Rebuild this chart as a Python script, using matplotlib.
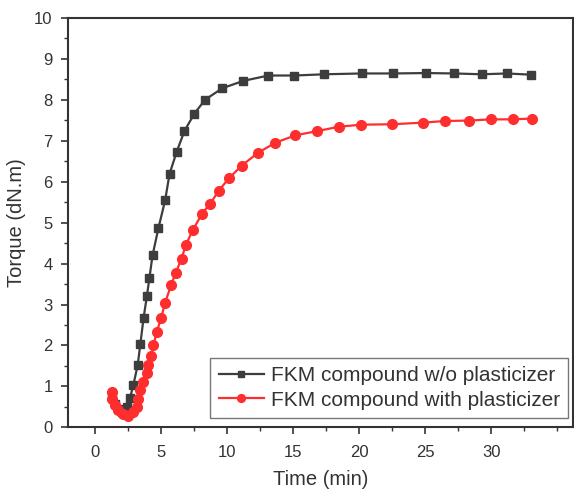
import numpy as np
import matplotlib
matplotlib.use("Agg")
import matplotlib.pyplot as plt
from matplotlib.ticker import MultipleLocator

# ---------- data ----------
t_without = [1.3, 1.5, 1.75, 2.05, 2.35, 2.4, 2.65, 2.9, 3.23, 3.43, 3.67, 3.92, 4.11,
             4.35, 4.8, 5.3, 5.64, 6.17, 6.77, 7.52, 8.33, 9.64, 11.23, 13.13,
             15.1, 17.37, 20.2, 22.55, 25.08, 27.2, 29.3, 31.2, 33.0]
torque_without = [0.80, 0.58, 0.44, 0.37, 0.42, 0.51, 0.72, 1.04, 1.53, 2.04, 2.67, 3.20, 3.64,
                  4.20, 4.87, 5.54, 6.19, 6.72, 7.24, 7.66, 8.00, 8.28, 8.46, 8.59,
                  8.59, 8.62, 8.64, 8.64, 8.65, 8.64, 8.62, 8.64, 8.61]

t_with = [1.25, 1.30, 1.48, 1.77, 2.14, 2.52, 2.90, 3.16, 3.22, 3.41, 3.66, 3.90, 4.04,
          4.24, 4.42, 4.67, 5.00, 5.30, 5.76, 6.11, 6.55, 6.86, 7.42, 8.11, 8.71,
          9.37, 10.13, 11.10, 12.32, 13.65, 15.17, 16.77, 18.47, 20.14, 22.52,
          24.80, 26.52, 28.28, 30.0, 31.61, 33.08]
torque_with = [0.87, 0.70, 0.54, 0.42, 0.32, 0.29, 0.37, 0.50, 0.70, 0.92, 1.11, 1.33, 1.53,
               1.75, 2.00, 2.33, 2.67, 3.04, 3.48, 3.78, 4.12, 4.45, 4.83, 5.22, 5.46,
               5.78, 6.08, 6.39, 6.70, 6.95, 7.13, 7.23, 7.34, 7.39, 7.40,
               7.44, 7.48, 7.49, 7.52, 7.52, 7.54]

labels = ["FKM compound w/o plasticizer", "FKM compound with plasticizer"]

plt.rcParams['font.family'] = ['Liberation Sans', 'DejaVu Sans']

fig = plt.figure(figsize=(5.74, 4.93), dpi=100)
ax = fig.add_axes([0.1185, 0.133, 0.88, 0.831])

ax.plot(t_without, torque_without, color="#3d3d3d", marker="s", markersize=6,
        linewidth=1.6, label=labels[0])
ax.plot(t_with, torque_with, color="#ff2e2e", marker="o", markersize=7,
        linewidth=1.6, label=labels[1])

ax.set_xlim(-2.05, 36.2)
ax.set_ylim(0, 10)
ax.xaxis.set_major_locator(MultipleLocator(5))
ax.xaxis.set_minor_locator(MultipleLocator(2.5))
ax.yaxis.set_major_locator(MultipleLocator(1))
ax.yaxis.set_minor_locator(MultipleLocator(0.5))
ax.set_xticks(np.arange(0, 31, 5))
ax.tick_params(which="both", direction="out", labelsize=12, colors="#333333")
ax.tick_params(axis="x", which="major", pad=8)
ax.tick_params(axis="y", which="major", pad=6)
ax.tick_params(which="major", length=5, width=1.2)
ax.tick_params(which="minor", length=3, width=1.0)
for s in ax.spines.values():
    s.set_linewidth(1.5)
    s.set_color("#333333")

ax.set_xlabel("Time (min)", fontsize=14.5, color="#333333", labelpad=7)
ax.set_ylabel("Torque (dN.m)", fontsize=14.5, color="#333333", labelpad=6)

leg = ax.legend(loc="lower right", bbox_to_anchor=(0.99, 0.023), fontsize=15,
                frameon=True, fancybox=False, edgecolor="#555555",
                handlelength=2.2, handletextpad=0.3, borderpad=0.4,
                labelspacing=0.25, borderaxespad=0.0, markerscale=0.8)
leg.get_frame().set_linewidth(1.0)
for txt in leg.get_texts():
    txt.set_color("#333333")

fig.savefig("out.png", dpi=100)
